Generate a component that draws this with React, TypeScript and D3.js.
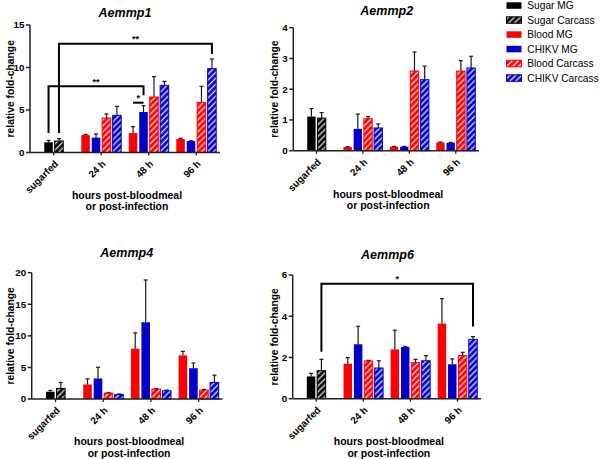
import React from "react";
import * as d3 from "d3";

const groups = ["sugarfed", "24 h", "48 h", "96 h"];
const seriesNames = ["Sugar MG", "Sugar Carcass", "Blood MG", "CHIKV MG", "Blood Carcass", "CHIKV Carcass"];
const seriesColors = ["#000000", "#000000", "#FF0000", "#0000C8", "#FF0000", "#0000C8"];
const seriesHatched = [false, true, false, false, true, true];

// rows = series, columns = groups (sugarfed, 24 h, 48 h, 96 h)
const aemmp1Means = [
  [1.2, null, null, null],
  [1.35, null, null, null],
  [null, 2.05, 2.29, 1.59],
  [null, 1.75, 4.76, 1.35],
  [null, 4.06, 6.53, 5.9],
  [null, 4.37, 7.9, 9.86],
];
const aemmp1Errors = [
  [0.23, null, null, null],
  [0.28, null, null, null],
  [null, 0.08, 0.75, 0.08],
  [null, 0.43, 0.74, 0.02],
  [null, 0.47, 2.39, 1.88],
  [null, 1.06, 0.47, 1.14],
];
const aemmp2Means = [
  [1.11, null, null, null],
  [1.06, null, null, null],
  [null, 0.12, 0.13, 0.27],
  [null, 0.71, 0.13, 0.26],
  [null, 1.04, 2.59, 2.59],
  [null, 0.74, 2.31, 2.69],
];
const aemmp2Errors = [
  [0.26, null, null, null],
  [0.18, null, null, null],
  [null, 0.01, 0.01, 0.01],
  [null, 0.48, 0.01, 0.01],
  [null, 0.07, 0.62, 0.34],
  [null, 0.13, 0.44, 0.38],
];
const aemmp4Means = [
  [1.15, null, null, null],
  [1.68, null, null, null],
  [null, 2.3, 7.96, 6.91],
  [null, 3.25, 12.15, 4.87],
  [null, 0.94, 1.57, 1.41],
  [null, 0.73, 1.31, 2.62],
];
const aemmp4Errors = [
  [0.21, null, null, null],
  [0.94, null, null, null],
  [null, 0.89, 2.51, 0.63],
  [null, 1.78, 6.7, 0.83],
  [null, 0.05, 0.05, 0.11],
  [null, 0.05, 0.1, 1.15],
];
const aemmp6Means = [
  [1.08, null, null, null],
  [1.36, null, null, null],
  [null, 1.7, 2.39, 3.64],
  [null, 2.64, 2.51, 1.67],
  [null, 1.83, 1.75, 2.09],
  [null, 1.49, 1.84, 2.88],
];
const aemmp6Errors = [
  [0.15, null, null, null],
  [0.55, null, null, null],
  [null, 0.29, 0.93, 1.21],
  [null, 0.87, 0.03, 0.26],
  [null, 0.03, 0.16, 0.16],
  [null, 0.35, 0.25, 0.13],
];

// significance brackets: [group, series] endpoints, top value, leg bottom values
const aemmp1Brackets = [
  { from: [0, 1], to: [3, 5], top: 12.8, leftEnd: 2.3, rightEnd: 11.6, label: "**" },
  { from: [0, 0], to: [2, 3], top: 7.8, leftEnd: 2.3, rightEnd: 6.75, label: "**" },
  { from: [2, 2], to: [2, 3], top: 5.86, leftEnd: 5.86, rightEnd: 5.86, label: "*" },
];
const aemmp6Brackets = [
  { from: [0, 1], to: [3, 5], top: 5.57, leftEnd: 2.28, rightEnd: 3.5, label: "*" },
];

const FONT = "Arial, 'Liberation Sans', Helvetica, sans-serif";

type PanelProps = {
  title: string;
  means: (number | null)[][];
  errors: (number | null)[][];
  yMax: number;
  tickCount: number;
  left: number;
  right: number;
  y0: number;
  yTop: number;
  titleX: number;
  titleY: number;
  yLabelX: number;
  xTitleY: number;
  brackets?: any[];
};

function patternId(s: number) {
  const c = seriesColors[s];
  return c === "#000000" ? "hatch-black" : c === "#FF0000" ? "hatch-red" : "hatch-blue";
}

function Panel(p: PanelProps) {
  const x = d3.scalePoint<string>().domain(groups).range([p.left, p.right]).padding(0.5);
  const y = d3.scaleLinear().domain([0, p.yMax]).range([p.y0, p.yTop]);
  const step = x.step();
  const slot = step * 0.22;
  const bw = slot * 0.82;
  const barX = (g: number, s: number) => {
    const c = x(groups[g])!;
    const off = g === 0 ? s - 0.5 : s - 2 - 1.5;
    return c + off * slot;
  };
  const bars: any[] = [];
  p.means.forEach((row, s) => {
    row.forEach((v, g) => {
      if (v == null) return;
      const cx = barX(g, s);
      const e = p.errors[s][g] || 0;
      const hatched = seriesHatched[s];
      bars.push(
        <g key={`b${s}-${g}`}>
          <rect
            x={cx - bw / 2}
            y={y(v)}
            width={bw}
            height={p.y0 - y(v)}
            fill={hatched ? `url(#${patternId(s)})` : seriesColors[s]}
            stroke={seriesColors[s]}
            strokeWidth={hatched ? 1 : 0}
          />
          {e > 0.005 && (
            <g stroke="#1a1a1a" strokeWidth={1.2}>
              <line x1={cx} x2={cx} y1={y(v)} y2={y(v + e)} />
              <line x1={cx - 2} x2={cx + 2} y1={y(v + e)} y2={y(v + e)} />
            </g>
          )}
        </g>
      );
    });
  });
  const ticks = y.ticks(p.tickCount);
  const midY = (p.y0 + p.yTop) / 2;
  const midX = (p.left + p.right) / 2;
  return (
    <g fontFamily={FONT}>
      <text x={p.titleX} y={p.titleY} textAnchor="middle" fontSize={12.5} fontWeight="bold" fontStyle="italic">
        {p.title}
      </text>
      {bars}
      {/* y axis */}
      <line x1={p.left} x2={p.left} y1={p.y0} y2={p.yTop} stroke="#222" strokeWidth={1.5} />
      {ticks.map((t) => (
        <g key={`t${t}`}>
          <line x1={p.left - 4} x2={p.left} y1={y(t)} y2={y(t)} stroke="#222" strokeWidth={1.5} />
          <text x={p.left - 5.5} y={y(t)} dy="0.35em" textAnchor="end" fontSize={9.8} fontWeight="bold">
            {t}
          </text>
        </g>
      ))}
      {/* x axis */}
      <line x1={p.left} x2={p.right} y1={p.y0} y2={p.y0} stroke="#222" strokeWidth={1.5} />
      {groups.map((g) => (
        <g key={`x${g}`}>
          <line x1={x(g)} x2={x(g)} y1={p.y0} y2={p.y0 + 3} stroke="#222" strokeWidth={1.3} />
          <text
            transform={`translate(${x(g)! + 5},${p.y0 + 12}) rotate(-45)`}
            textAnchor="end"
            fontSize={9.8}
            fontWeight="bold"
          >
            {g}
          </text>
        </g>
      ))}
      <text
        transform={`translate(${p.yLabelX},${midY}) rotate(-90)`}
        textAnchor="middle"
        fontSize={10.3}
        fontWeight="bold"
      >
        relative fold-change
      </text>
      <text x={midX + 2} y={p.xTitleY} textAnchor="middle" fontSize={10.5} fontWeight="bold">
        hours post-bloodmeal
      </text>
      <text x={midX + 2} y={p.xTitleY + 11.8} textAnchor="middle" fontSize={10.5} fontWeight="bold">
        or post-infection
      </text>
      {(p.brackets || []).map((b, i) => {
        const xl = barX(b.from[0], b.from[1]);
        const xr = barX(b.to[0], b.to[1]);
        const yt = y(b.top);
        return (
          <g key={`br${i}`}>
            <path
              d={`M${xl},${y(b.leftEnd)}V${yt}H${xr}V${y(b.rightEnd)}`}
              fill="none"
              stroke="#000"
              strokeWidth={2}
            />
            <text x={(xl + xr) / 2} y={yt - 1.5} textAnchor="middle" fontSize={9} fontWeight="bold">
              {b.label}
            </text>
          </g>
        );
      })}
    </g>
  );
}

function Legend() {
  return (
    <g fontFamily={FONT}>
      {seriesNames.map((n, i) => {
        const base = 9.3 + 14.5 * i;
        return (
          <g key={n}>
            <rect
              x={506.5}
              y={base - 7}
              width={15}
              height={6.5}
              fill={seriesHatched[i] ? `url(#${patternId(i)})` : seriesColors[i]}
              stroke={seriesColors[i]}
              strokeWidth={seriesHatched[i] ? 1 : 0}
            />
            <text x={527.3} y={base} fontSize={10.2}>
              {n}
            </text>
          </g>
        );
      })}
    </g>
  );
}

export default function App() {
  return (
    <svg
      width={600}
      height={459}
      style={{ position: "absolute", left: 0, top: 0, background: "#fff" }}
    >
      <defs>
        {[
          ["hatch-black", "#000000", "#d8d8d8"],
          ["hatch-red", "#FF0000", "#ffd8d8"],
          ["hatch-blue", "#0000C8", "#d8d8ff"],
        ].map(([id, c, s]) => (
          <pattern key={id} id={id} width={4.2} height={4.2} patternUnits="userSpaceOnUse" patternTransform="rotate(45)">
            <rect width={4.2} height={4.2} fill={c} />
            <line x1={2.1} x2={2.1} y1={0} y2={4.2} stroke={s} strokeWidth={1.4} />
          </pattern>
        ))}
      </defs>
      <rect width={600} height={459} fill="#fff" />
      <Panel
        title="Aemmp1"
        means={aemmp1Means}
        errors={aemmp1Errors}
        yMax={15}
        tickCount={3}
        left={30}
        right={220}
        y0={152.5}
        yTop={25}
        titleX={125}
        titleY={17}
        yLabelX={13.5}
        xTitleY={198.5}
        brackets={aemmp1Brackets}
      />
      <Panel
        title="Aemmp2"
        means={aemmp2Means}
        errors={aemmp2Errors}
        yMax={4}
        tickCount={4}
        left={293.3}
        right={479}
        y0={150.7}
        yTop={27.7}
        titleX={386.7}
        titleY={15}
        yLabelX={278}
        xTitleY={197.5}
      />
      <Panel
        title="Aemmp4"
        means={aemmp4Means}
        errors={aemmp4Errors}
        yMax={20}
        tickCount={4}
        left={31.7}
        right={222.5}
        y0={399}
        yTop={272.7}
        titleX={126.7}
        titleY={257}
        yLabelX={13.5}
        xTitleY={445}
      />
      <Panel
        title="Aemmp6"
        means={aemmp6Means}
        errors={aemmp6Errors}
        yMax={6}
        tickCount={3}
        left={292.7}
        right={481}
        y0={398.7}
        yTop={275}
        titleX={387.5}
        titleY={259}
        yLabelX={278}
        xTitleY={445}
        brackets={aemmp6Brackets}
      />
      <Legend />
    </svg>
  );
}
